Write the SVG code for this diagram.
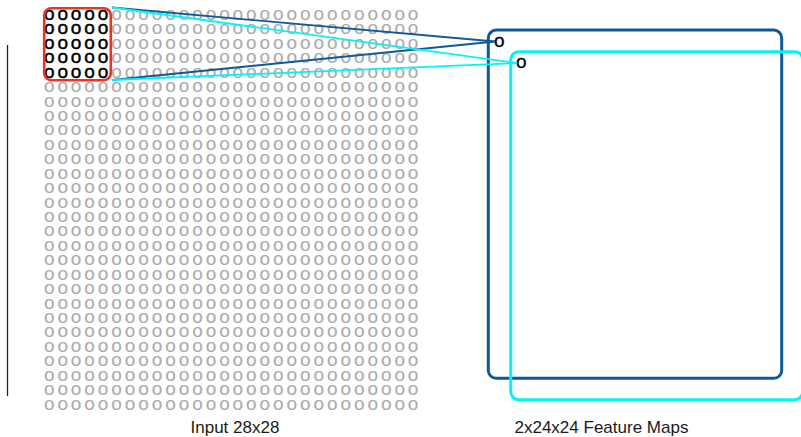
<svg xmlns="http://www.w3.org/2000/svg" xmlns:xlink="http://www.w3.org/1999/xlink" width="801" height="437" viewBox="0 0 801 437">
  <style>
    .cell { font-family: "Liberation Sans", Arial, sans-serif; font-size: 19px; fill: #adadad; stroke: #adadad; stroke-width: 0.15; }
    .dark { fill: #000000; stroke: #000000; stroke-width: 0.45; }
    .label { font-family: "Liberation Sans", Arial, sans-serif; font-size: 17px; fill: #1a1a1a; }
    .mapo { font-family: "Liberation Sans", Arial, sans-serif; font-size: 19px; fill: #000000; stroke: #000000; stroke-width: 0.3; }
    .link-blue { stroke: #0f5a96; stroke-width: 1.8; fill: none; }
    .link-cyan { stroke: #00f5f5; stroke-width: 1.8; fill: none; }
  </style>
  <defs>
    <!-- one row of 28 input cells; the first five are the receptive field -->
    <text id="rowField" class="cell" x="43.9 57.38 70.86 84.34 97.82 111.3 124.78 138.26 151.74 165.22 178.7 192.18 205.66 219.14 232.62 246.1 259.58 273.06 286.54 300.02 313.5 326.98 340.46 353.94 367.42 380.9 394.38 407.86" y="0"><tspan class="dark">ooooo</tspan>ooooooooooooooooooooooo</text>
    <text id="rowPlain" class="cell" x="43.9 57.38 70.86 84.34 97.82 111.3 124.78 138.26 151.74 165.22 178.7 192.18 205.66 219.14 232.62 246.1 259.58 273.06 286.54 300.02 313.5 326.98 340.46 353.94 367.42 380.9 394.38 407.86" y="0">oooooooooooooooooooooooooooo</text>
  </defs>

  <rect width="801" height="437" fill="#ffffff"/>

  <!-- left axis bar -->
  <line x1="7.5" y1="45" x2="7.5" y2="396" stroke="#222222" stroke-width="1.3"/>

  <!-- input grid 28x28 -->
  <g id="input">
    <use xlink:href="#rowField" href="#rowField" y="20"/>
    <use xlink:href="#rowField" href="#rowField" y="34.43"/>
    <use xlink:href="#rowField" href="#rowField" y="48.86"/>
    <use xlink:href="#rowField" href="#rowField" y="63.29"/>
    <use xlink:href="#rowField" href="#rowField" y="77.72"/>
    <use xlink:href="#rowPlain" href="#rowPlain" y="92.15"/>
    <use xlink:href="#rowPlain" href="#rowPlain" y="106.58"/>
    <use xlink:href="#rowPlain" href="#rowPlain" y="121.01"/>
    <use xlink:href="#rowPlain" href="#rowPlain" y="135.44"/>
    <use xlink:href="#rowPlain" href="#rowPlain" y="149.87"/>
    <use xlink:href="#rowPlain" href="#rowPlain" y="164.3"/>
    <use xlink:href="#rowPlain" href="#rowPlain" y="178.73"/>
    <use xlink:href="#rowPlain" href="#rowPlain" y="193.16"/>
    <use xlink:href="#rowPlain" href="#rowPlain" y="207.59"/>
    <use xlink:href="#rowPlain" href="#rowPlain" y="222.02"/>
    <use xlink:href="#rowPlain" href="#rowPlain" y="236.45"/>
    <use xlink:href="#rowPlain" href="#rowPlain" y="250.88"/>
    <use xlink:href="#rowPlain" href="#rowPlain" y="265.31"/>
    <use xlink:href="#rowPlain" href="#rowPlain" y="279.74"/>
    <use xlink:href="#rowPlain" href="#rowPlain" y="294.17"/>
    <use xlink:href="#rowPlain" href="#rowPlain" y="308.6"/>
    <use xlink:href="#rowPlain" href="#rowPlain" y="323.03"/>
    <use xlink:href="#rowPlain" href="#rowPlain" y="337.46"/>
    <use xlink:href="#rowPlain" href="#rowPlain" y="351.89"/>
    <use xlink:href="#rowPlain" href="#rowPlain" y="366.32"/>
    <use xlink:href="#rowPlain" href="#rowPlain" y="380.75"/>
    <use xlink:href="#rowPlain" href="#rowPlain" y="395.18"/>
    <use xlink:href="#rowPlain" href="#rowPlain" y="409.61"/>
    <text class="label" x="190.5" y="433">Input 28x28</text>
  </g>

  <!-- 5x5 receptive field -->
  <g id="field">
    <rect x="44.2" y="8.2" width="66.6" height="72" rx="7" fill="none" stroke="#ee3322" stroke-width="2.6"/>
  </g>

  <!-- first feature map -->
  <g id="map1">
    <rect x="488.3" y="30" width="293.4" height="348.3" rx="8" fill="none" stroke="#0f5a96" stroke-width="3"/>
    <text class="mapo" x="494" y="46.6">o</text>
  </g>

  <!-- second feature map -->
  <g id="map2">
    <rect x="510.7" y="51.7" width="292" height="348" rx="8" fill="none" stroke="#00f5f5" stroke-width="3"/>
    <text class="mapo" x="516" y="68">o</text>
  </g>

  <!-- connections from the field to one unit in each map -->
  <g id="connectors">
    <line class="link-blue" x1="112" y1="7.5" x2="495" y2="41.5"/>
    <line class="link-blue" x1="112" y1="80" x2="495" y2="41.5"/>
    <line class="link-cyan" x1="112" y1="7.5" x2="517" y2="63"/>
    <line class="link-cyan" x1="112" y1="80" x2="517" y2="63"/>
  </g>

  <g id="maps-label">
    <text class="label" x="514.5" y="433">2x24x24 Feature Maps</text>
  </g>
</svg>
